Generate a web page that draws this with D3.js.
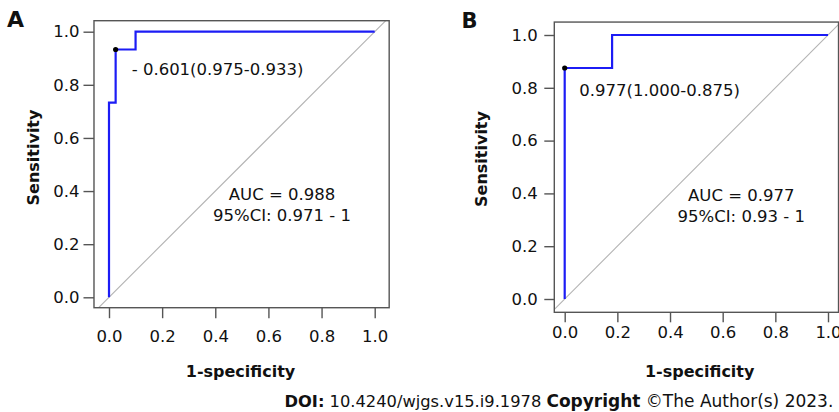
<!DOCTYPE html>
<html><head><meta charset="utf-8">
<script src="https://cdn.jsdelivr.net/npm/d3@7"></script>
<style>
html,body{margin:0;padding:0;background:#fff;}
svg{display:block;}
text{font-family:"DejaVu Sans",Verdana,sans-serif;fill:#111;}
</style></head>
<body>
<svg id="chart" width="839" height="412"></svg>
<script>
// ---- data ----
const tickValues = [0, 0.2, 0.4, 0.6, 0.8, 1.0];
const fprA = [0, 0, 0.025, 0.025, 0.1, 0.1, 1.0];
const tprA = [0, 0.733, 0.733, 0.933, 0.933, 1.0, 1.0];
const bestA = [0.025, 0.933];
const labelA = "- 0.601(0.975-0.933)";
const aucA = ["AUC = 0.988", "95%CI: 0.971 - 1"];

const fprB = [0, 0, 0.18, 0.18, 1.0];
const tprB = [0, 0.875, 0.875, 1.0, 1.0];
const bestB = [0, 0.875];
const labelB = "0.977(1.000-0.875)";
const aucB = ["AUC = 0.977", "95%CI: 0.93 - 1"];

const xTitle = "1-specificity", yTitle = "Sensitivity";

const svg = d3.select("#chart");
const FS = 16.5;

function panel(cfg) {
  const x = d3.scaleLinear().domain([0, 1]).range(cfg.xr);
  const y = d3.scaleLinear().domain([0, 1]).range(cfg.yr);
  const [x0, x1] = cfg.xlim, [y0, y1] = cfg.ylim;
  const g = svg.append("g");
  const clipId = "clip" + cfg.name;
  svg.append("clipPath").attr("id", clipId).append("rect")
    .attr("x", x(x0)).attr("y", y(y1))
    .attr("width", x(x1) - x(x0)).attr("height", y(y0) - y(y1));

  // diagonal reference line
  g.append("line").attr("clip-path", `url(#${clipId})`)
    .attr("x1", x(-0.2)).attr("y1", y(-0.2)).attr("x2", x(1.2)).attr("y2", y(1.2))
    .attr("stroke", "#b3b3b3").attr("stroke-width", 1.1);

  // ROC curve
  const pts = cfg.fpr.map((f, i) => [f, cfg.tpr[i]]);
  g.append("path").datum(pts)
    .attr("d", d3.line().x(d => x(d[0])).y(d => y(d[1])))
    .attr("fill", "none").attr("stroke", "#1c1cf5").attr("stroke-width", 2.2);

  // best point
  g.append("circle").attr("cx", x(cfg.best[0])).attr("cy", y(cfg.best[1]))
    .attr("r", 2.6).attr("fill", "#000");

  // frame
  g.append("rect").attr("x", x(x0)).attr("y", y(y1))
    .attr("width", x(x1) - x(x0)).attr("height", y(y0) - y(y1))
    .attr("fill", "none").attr("stroke", "#555").attr("stroke-width", 1.4);

  // axes
  const ya = g.append("g").attr("transform", `translate(${x(x0)},0)`)
    .call(d3.axisLeft(y).tickValues(tickValues).tickFormat(d3.format(".1f"))
      .tickSize(cfg.tick).tickPadding(cfg.ypad));
  const xa = g.append("g").attr("transform", `translate(0,${y(y0)})`)
    .call(d3.axisBottom(x).tickValues(tickValues).tickFormat(d3.format(".1f"))
      .tickSize(cfg.tick));
  [ya, xa].forEach(a => {
    a.select(".domain").remove();
    a.selectAll("line").attr("stroke", "#555").attr("stroke-width", 1.4);
    a.selectAll("text").style("font-family", '"DejaVu Sans",Verdana,sans-serif')
      .style("font-size", FS + "px").attr("fill", "#111");
  });
  xa.selectAll("text").attr("y", cfg.xlabOff).attr("dy", null);

  // axis titles
  g.append("text").attr("x", cfg.xtPos[0]).attr("y", cfg.xtPos[1])
    .attr("text-anchor", "middle").style("font-weight", "bold").style("font-size", "16px")
    .text(xTitle);
  g.append("text").attr("transform", `translate(${cfg.ytPos[0]},${cfg.ytPos[1]}) rotate(-90)`)
    .attr("text-anchor", "middle").style("font-weight", "bold").style("font-size", "16px")
    .text(yTitle);

  // annotations
  g.append("text").attr("x", cfg.labPos[0]).attr("y", cfg.labPos[1])
    .style("font-size", FS + "px").text(cfg.label);
  cfg.auc.forEach((t, i) => {
    g.append("text").attr("x", cfg.aucPos[0]).attr("y", cfg.aucPos[1] + i * 21.3)
      .attr("text-anchor", "middle").style("font-size", FS + "px").text(t);
  });

  // panel letter
  g.append("text").attr("x", cfg.letterPos[0]).attr("y", cfg.letterPos[1])
    .style("font-weight", "bold").style("font-size", cfg.letterSize + "px").text(cfg.name);
}

panel({
  name: "A", fpr: fprA, tpr: tprA, best: bestA, label: labelA, auc: aucA,
  xr: [109, 374.7], yr: [297.3, 31.7],
  xlim: [-0.0565, 1.0545], ylim: [-0.0392, 1.0414],
  tick: 10.5, ypad: 4, xlabOff: 34,
  xtPos: [240.5, 377.4], ytPos: [38.5, 157.5],
  labPos: [131.7, 75], aucPos: [282, 200],
  letterPos: [7, 26.7], letterSize: 22
});
panel({
  name: "B", fpr: fprB, tpr: tprB, best: bestB, label: labelB, auc: aucB,
  xr: [564.7, 828], yr: [299, 35],
  xlim: [-0.0395, 1.04], ylim: [-0.0504, 1.049],
  tick: 10, ypad: 6.5, xlabOff: 26,
  xtPos: [699.7, 377.4], ytPos: [486.7, 159],
  labPos: [579.3, 96], aucPos: [741.3, 200.5],
  letterPos: [461.5, 28.3], letterSize: 21
});

// footer
const foot = svg.append("text").attr("x", 284.5).attr("y", 407).style("font-size", "16.3px");
foot.append("tspan").style("font-weight", "bold").text("DOI:");
foot.append("tspan").text(" 10.4240/wjgs.v15.i9.1978 ");
foot.append("tspan").style("font-weight", "bold").style("font-size", "17px").text("Copyright");
foot.append("tspan").style("font-size", "17px").text(" ©The Author(s) 2023.");
</script>
</body></html>
